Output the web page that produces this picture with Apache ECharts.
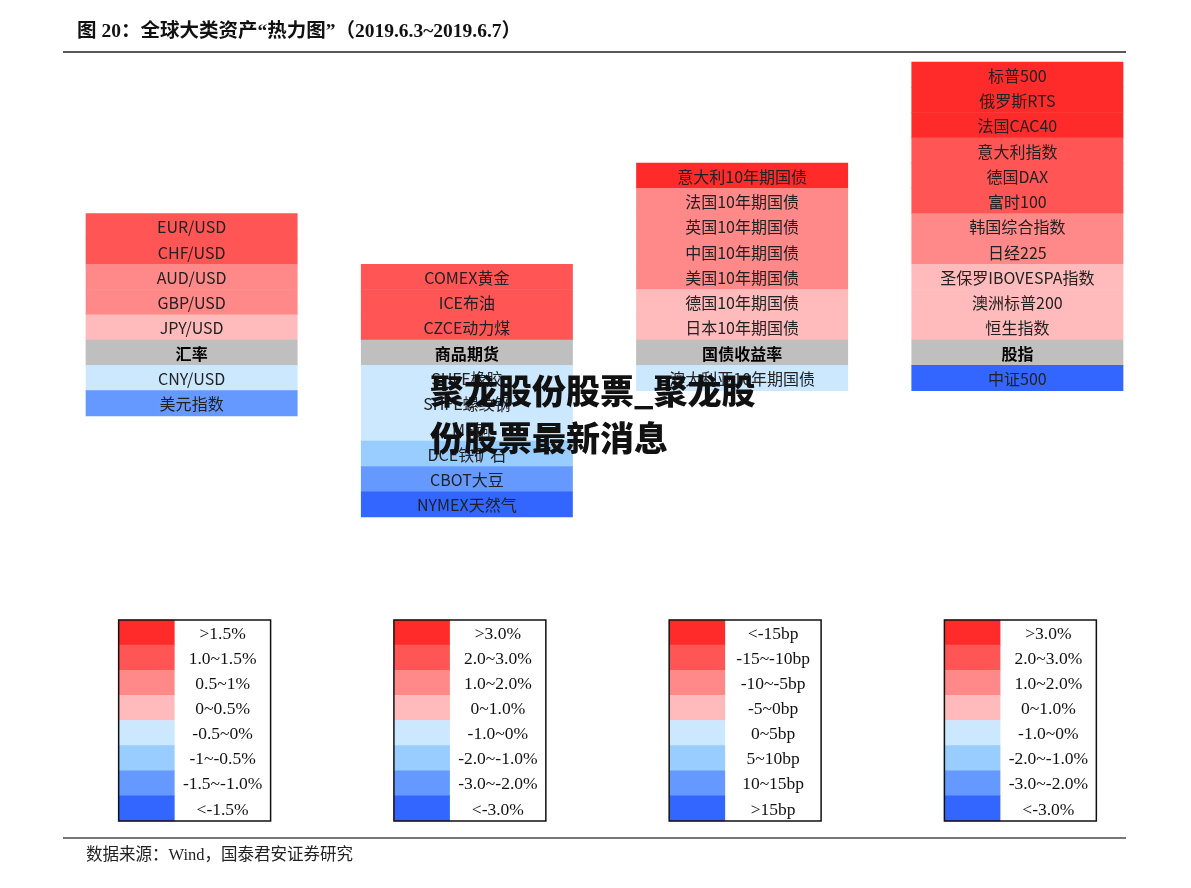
<!DOCTYPE html>
<html>
<head>
<meta charset="utf-8">
<script src="https://cdn.jsdelivr.net/npm/echarts@6/dist/echarts.min.js"></script>
<style>html,body{margin:0;padding:0;background:#fff;}#c{width:1191px;height:888px;}</style>
</head>
<body>
<div id="c"></div>
<script>
// ---- data ----
// level: 1 = strongest red ... 8 = strongest blue, 0 = category header (gray)
const fxNames = ['EUR/USD','CHF/USD','AUD/USD','GBP/USD','JPY/USD','汇率','CNY/USD','美元指数'];
const fxLevels = [2,2,3,3,4,0,5,7];
const cmdNames = ['COMEX黄金','ICE布油','CZCE动力煤','商品期货','SHFE橡胶','SHFE螺纹钢','LME铜','DCE铁矿石','CBOT大豆','NYMEX天然气'];
const cmdLevels = [2,2,2,0,5,5,5,6,7,8];
const bondNames = ['意大利10年期国债','法国10年期国债','英国10年期国债','中国10年期国债','美国10年期国债','德国10年期国债','日本10年期国债','国债收益率','澳大利亚10年期国债'];
const bondLevels = [1,3,3,3,3,4,4,0,5];
const eqNames = ['标普500','俄罗斯RTS','法国CAC40','意大利指数','德国DAX','富时100','韩国综合指数','日经225','圣保罗IBOVESPA指数','澳洲标普200','恒生指数','股指','中证500'];
const eqLevels = [1,1,1,2,2,2,3,3,4,4,4,0,8];

const levelColors = ['#BFBFBF','#FF2B2B','#FF5555','#FF8888','#FFBBBB','#CCE8FF','#99CCFF','#6699FF','#3366FF'];

const legendFx = ['>1.5%','1.0~1.5%','0.5~1%','0~0.5%','-0.5~0%','-1~-0.5%','-1.5~-1.0%','<-1.5%'];
const legendCmd = ['>3.0%','2.0~3.0%','1.0~2.0%','0~1.0%','-1.0~0%','-2.0~-1.0%','-3.0~-2.0%','<-3.0%'];
const legendBond = ['<-15bp','-15~-10bp','-10~-5bp','-5~0bp','0~5bp','5~10bp','10~15bp','>15bp'];
const legendEq = ['>3.0%','2.0~3.0%','1.0~2.0%','0~1.0%','-1.0~0%','-2.0~-1.0%','-3.0~-2.0%','<-3.0%'];

const titleText = '图 20：全球大类资产“热力图”（2019.6.3~2019.6.7）';
const sourceText = '数据来源：Wind，国泰君安证券研究';
const watermark1 = '聚龙股份股票_聚龙股';
const watermark2 = '份股票最新消息';

// ---- build ----
const columns = [[fxNames, fxLevels],[cmdNames, cmdLevels],[bondNames, bondLevels],[eqNames, eqLevels]];
const cellData = [];
columns.forEach(([names, levels], ci) => {
  const h = levels.indexOf(0);
  names.forEach((n, i) => cellData.push([ci, h - i, levels[i], n]));
});
const legends = [legendFx, legendCmd, legendBond, legendEq];
const legendData = [];
legends.forEach((arr, ci) => arr.forEach((t, i) => legendData.push([ci, i, i + 1, t])));
const boxData = [[0],[1],[2],[3]];

const CELL_W = 0.77;
const LEG_W = 0.552, SW_W = 0.2034;

const chart = echarts.init(document.getElementById('c'), null, {renderer: 'canvas'});
chart.setOption({
  backgroundColor: '#fff',
  animation: false,
  grid: [
    {left: 54, width: 1101, top: 62, height: 455},
    {left: 57, width: 1101, top: 620, height: 201}
  ],
  xAxis: [
    {type: 'value', min: -0.5, max: 3.5, show: false, gridIndex: 0},
    {type: 'value', min: -0.5, max: 3.5, show: false, gridIndex: 1}
  ],
  yAxis: [
    {type: 'value', min: -6.5, max: 11.5, show: false, gridIndex: 0},
    {type: 'value', min: -0.5, max: 7.5, inverse: true, show: false, gridIndex: 1}
  ],
  series: [
    {
      type: 'custom', xAxisIndex: 0, yAxisIndex: 0, data: cellData,
      renderItem: function (params, api) {
        const c = api.coord([api.value(0), api.value(1)]);
        const s = api.size([CELL_W, 1]);
        const lvl = api.value(2);
        const isHead = lvl === 0;
        return {
          type: 'group',
          children: [
            {type: 'rect', shape: {x: c[0] - s[0] / 2, y: c[1] - s[1] / 2 - 0.3, width: s[0], height: s[1] + 0.6},
             style: {fill: levelColors[lvl]}},
            {type: 'text', style: {text: cellData[params.dataIndex][3], x: c[0], y: c[1] + 1,
              textAlign: 'center', textVerticalAlign: 'middle',
              fontSize: 16, fontWeight: isHead ? 'bold' : 'normal',
              fontFamily: '"Noto Sans CJK SC", sans-serif', fill: isHead ? '#000' : '#222'}}
          ]
        };
      }
    },
    {
      type: 'custom', xAxisIndex: 1, yAxisIndex: 1, data: legendData,
      renderItem: function (params, api) {
        const c = api.coord([api.value(0), api.value(1)]);
        const s = api.size([LEG_W, 1]);
        const sw = api.size([SW_W, 1])[0];
        const left = c[0] - s[0] / 2;
        return {
          type: 'group',
          children: [
            {type: 'rect', shape: {x: left, y: c[1] - s[1] / 2 - 0.3, width: sw, height: s[1] + 0.6},
             style: {fill: levelColors[api.value(2)]}},
            {type: 'text', style: {text: legendData[params.dataIndex][3], x: left + sw + (s[0] - sw) / 2, y: c[1] + 1.5,
              textAlign: 'center', textVerticalAlign: 'middle', fontSize: 17.5,
              fontFamily: '"Liberation Serif", "Times New Roman", serif', fill: '#111'}}
          ]
        };
      }
    },
    {
      type: 'custom', xAxisIndex: 1, yAxisIndex: 1, data: boxData, z: 5,
      renderItem: function (params, api) {
        const c0 = api.coord([api.value(0), -0.5]);
        const c1 = api.coord([api.value(0), 7.5]);
        const s = api.size([LEG_W, 1]);
        return {type: 'rect', shape: {x: c0[0] - s[0] / 2, y: c0[1], width: s[0], height: c1[1] - c0[1]},
                style: {fill: 'none', stroke: '#111', lineWidth: 1.5}};
      }
    }
  ],
  graphic: [
    {type: 'text', left: 77, top: 22, style: {text: titleText, fontSize: 19.5, fontWeight: 'bold',
      fontFamily: '"Liberation Serif", "Noto Sans CJK SC", serif', fill: '#111'}},
    {type: 'line', shape: {x1: 63, y1: 52, x2: 1126, y2: 52}, style: {stroke: '#222', lineWidth: 1.5}},
    {type: 'line', shape: {x1: 63, y1: 838, x2: 1126, y2: 838}, style: {stroke: '#777', lineWidth: 2}},
    {type: 'text', left: 86, top: 847, style: {text: sourceText, fontSize: 16.5,
      fontFamily: '"Liberation Serif", "Noto Sans CJK SC", serif', fill: '#222'}},
    {type: 'text', left: 430, top: 374, z: 100, style: {text: watermark1, fontSize: 34, fontWeight: 900,
      fontFamily: '"Noto Sans CJK SC", sans-serif', fill: '#111'}},
    {type: 'text', left: 430, top: 421, z: 100, style: {text: watermark2, fontSize: 34, fontWeight: 900,
      fontFamily: '"Noto Sans CJK SC", sans-serif', fill: '#111'}}
  ]
});
</script>
</body>
</html>
